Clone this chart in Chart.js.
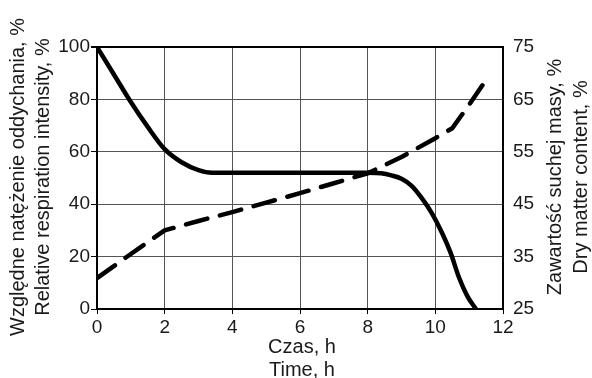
<!DOCTYPE html>
<html>
<head>
<meta charset="utf-8">
<script src="https://cdn.jsdelivr.net/npm/chart.js@4/dist/chart.umd.min.js"></script>
<style>
html,body{margin:0;padding:0;background:#fff;}
#wrap{width:592px;height:378px;position:relative;}
</style>
</head>
<body>
<div id="wrap"><canvas id="c" width="592" height="378"></canvas></div>
<script>
// Data
const respTime = [0, 0.5, 1, 1.5, 2, 2.5, 3, 3.4, 4, 5, 6, 7, 8, 8.4, 8.7, 9, 9.3, 9.6, 9.9, 10.2, 10.45, 10.7, 10.95, 11.2];
const respValues = [100, 89.5, 79, 69.5, 61, 56, 53, 52, 52, 52, 52, 52, 52, 51.8, 51, 49.7, 47, 42.3, 36.5, 29, 21.5, 12, 4.8, 0];
const dryTime = [0, 1, 2, 3, 4, 5, 6, 7, 8, 9, 10, 10.5, 11, 11.5];
const dryValues = [30.9, 35.5, 40, 41.8, 43.5, 45.3, 47.1, 49, 50.9, 54, 57.6, 59.5, 64, 68.7];
const xTicks = [0, 2, 4, 6, 8, 10, 12];
const leftTicks = [0, 20, 40, 60, 80, 100];
const rightTicks = [25, 35, 45, 55, 65, 75];
const xTitle = ["Czas, h", "Time, h"];
const leftTitle = ["Względne natężenie oddychania, %", "Relative respiration intensity, %"];
const rightTitle = ["Zawartość suchej masy, %", "Dry matter content, %"];

const FONT = "'Liberation Sans', Arial, sans-serif";
const TXT = '#1a1a1a';

const titlePlugin = {
  id: 'axisTitles',
  afterDraw(chart) {
    const ctx = chart.ctx;
    const a = chart.chartArea;
    ctx.save();
    ctx.fillStyle = TXT;
    ctx.font = '20px ' + FONT;
    ctx.textAlign = 'center';
    ctx.textBaseline = 'middle';
    const cx = (a.left + a.right) / 2 + 2;
    ctx.fillText(xTitle[0], cx, 347);
    ctx.fillText(xTitle[1], cx, 370);
    const cy = (a.top + a.bottom) / 2 - 1;
    [[18, leftTitle[0]], [43, leftTitle[1]], [555, rightTitle[0]], [581, rightTitle[1]]].forEach(([x, t]) => {
      ctx.save();
      ctx.translate(x, cy);
      ctx.rotate(-Math.PI / 2);
      ctx.fillText(t, 0, 0);
      ctx.restore();
    });
    ctx.restore();
  }
};

new Chart(document.getElementById('c'), {
  type: 'line',
  data: {
    datasets: [
      {
        label: 'resp',
        data: respTime.map((t, i) => ({x: t, y: respValues[i]})),
        borderColor: '#000',
        borderWidth: 4.5,
        pointRadius: 0,
        cubicInterpolationMode: 'monotone',
        yAxisID: 'y',
        fill: false
      },
      {
        label: 'dry',
        data: dryTime.map((t, i) => ({x: t, y: dryValues[i]})),
        borderColor: '#000',
        borderWidth: 4.5,
        borderDash: [22, 13],
        borderCapStyle: 'round',
        pointRadius: 0,
        tension: 0,
        yAxisID: 'y2',
        fill: false
      }
    ]
  },
  options: {
    responsive: false,
    animation: false,
    devicePixelRatio: 1,
    layout: {padding: {left: 50, right: 44, top: 47, bottom: 39}},
    plugins: {legend: {display: false}, tooltip: {enabled: false}},
    scales: {
      x: {
        type: 'linear',
        min: 0, max: 12,
        afterBuildTicks: s => { s.ticks = xTicks.map(v => ({value: v})); },
        afterFit: s => { s.height = 30; },
        ticks: {color: TXT, font: {size: 19, family: FONT}, padding: 2, maxRotation: 0},
        grid: {
          color: c => (c.tick && (c.tick.value === 0 || c.tick.value === 12)) ? '#000' : '#555',
          lineWidth: 1,
          tickLength: 5,
          tickColor: '#000'
        },
        border: {color: '#000', width: 2}
      },
      y: {
        position: 'left',
        min: 0, max: 100,
        afterBuildTicks: s => { s.ticks = leftTicks.map(v => ({value: v})); },
        afterFit: s => { s.width = 47; },
        ticks: {color: TXT, font: {size: 19, family: FONT}, padding: 1},
        grid: {
          color: c => (c.tick && c.tick.value === 100) ? '#000' : '#555',
          lineWidth: c => (c.tick && c.tick.value === 100) ? 2 : 1,
          tickLength: 6,
          tickColor: '#000'
        },
        border: {color: '#000', width: 2}
      },
      y2: {
        position: 'right',
        min: 25, max: 75,
        afterBuildTicks: s => { s.ticks = rightTicks.map(v => ({value: v})); },
        afterFit: s => { s.width = 45; },
        ticks: {color: TXT, font: {size: 19, family: FONT}, padding: 10},
        grid: {display: false, drawTicks: false},
        border: {color: '#000', width: 2}
      }
    }
  },
  plugins: [titlePlugin]
});
</script>
</body>
</html>
